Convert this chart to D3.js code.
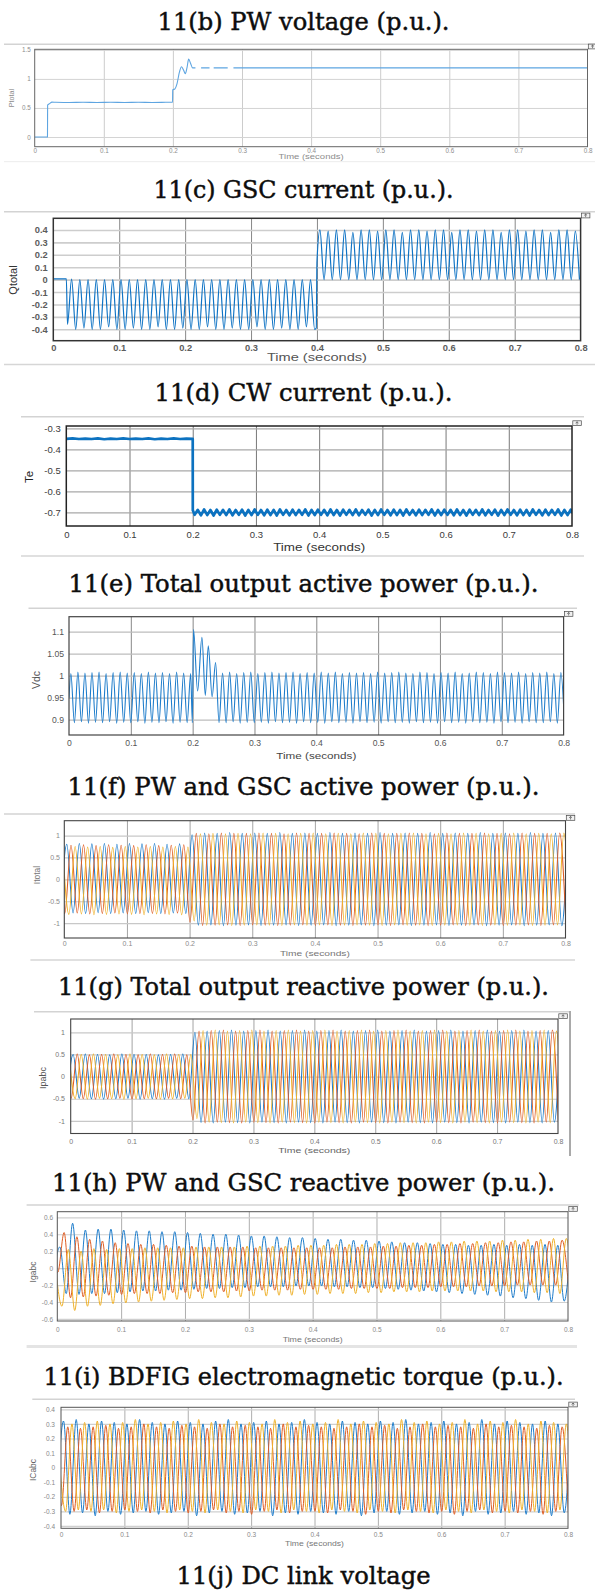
<!DOCTYPE html>
<html>
<head>
<meta charset="utf-8">
<title>BDFIG simulation results</title>
<script src="https://cdn.jsdelivr.net/npm/d3@7/dist/d3.min.js"></script>
<style>
html,body{margin:0;padding:0;background:#fff;}
svg{display:block;}
</style>
</head>
<body>
<script>
// ================= data =================
const timeTicks = [0, 0.1, 0.2, 0.3, 0.4, 0.5, 0.6, 0.7, 0.8];

const titleTexts = [
  "11(b) PW voltage (p.u.).",
  "11(c) GSC current (p.u.).",
  "11(d) CW current (p.u.).",
  "11(e) Total output active power (p.u.).",
  "11(f) PW and GSC active power (p.u.).",
  "11(g) Total output reactive power (p.u.).",
  "11(h) PW and GSC reactive power (p.u.).",
  "11(i) BDFIG electromagnetic torque (p.u.).",
  "11(j) DC link voltage"
];

// y tick values of each plot
const pwTicks = [0, 0.5, 1, 1.5];
const gscTicks = [-0.4, -0.3, -0.2, -0.1, 0, 0.1, 0.2, 0.3, 0.4];
const teTicks = [-0.7, -0.6, -0.5, -0.4, -0.3];
const vdcTicks = [0.9, 0.95, 1, 1.05, 1.1];
const itotalTicks = [-1, -0.5, 0, 0.5, 1];
const ipabcTicks = [-1, -0.5, 0, 0.5, 1];
const igabcTicks = [-0.6, -0.4, -0.2, 0, 0.2, 0.4, 0.6];
const icabcTicks = [-0.4, -0.3, -0.2, -0.1, 0, 0.1, 0.2, 0.3, 0.4];

// (b) Ptotal: sampled points, null = gap in the trace
const pwTime = [0, 0.0185, 0.0187, 0.0215, 0.025, 0.03, 0.05, 0.07, 0.09, 0.11, 0.13, 0.15, 0.17, 0.19, 0.1995, 0.1997,
  0.203, 0.206, 0.2095, 0.2125, 0.2155, 0.218, 0.2205, 0.2228, 0.2255, 0.2285, 0.2326, 0.2327, 0.2408, 0.253, 0.2531,
  0.259, 0.2793, 0.2794, 0.2876, 0.8];
const pwValue = [0, 0, 0.55, 0.575, 0.6, 0.598, 0.593, 0.598, 0.594, 0.598, 0.594, 0.598, 0.594, 0.598, 0.6, 0.81,
  0.83, 0.92, 1.12, 1.21, 1.15, 1.09, 1.2, 1.34, 1.27, 1.19, 1.19, null, 1.19, 1.19, null,
  1.19, 1.19, null, 1.19, 1.19];

// (c) Qtotal: lead-in, then extrema every half period
const gscLeadTime = [0, 0.0198];
const gscLeadValue = [0.006, 0.006];
const gscNegStart = 0.0215, gscHalf = 0.00625;
const gscNeg = [
  -0.36, 0.005, -0.4, 0, -0.39, 0, -0.4, 0, -0.4, 0,
  -0.38, 0, -0.4, 0, -0.4, 0, -0.39, 0, -0.4, 0,
  -0.4, 0, -0.38, 0, -0.4, 0, -0.4, 0, -0.39, 0,
  -0.4, 0, -0.4, 0, -0.38, 0, -0.4, 0, -0.4, 0,
  -0.39, 0, -0.4, 0, -0.4, 0, -0.38, 0, -0.4, 0,
  -0.4, 0, -0.39, 0, -0.4, 0, -0.4, 0, -0.38, 0,
  -0.4];
const gscStepTime = [0.399, 0.4];
const gscStepValue = [-0.39, 0.14];
const gscPosStart = 0.4045;
const gscPos = [
  0.4, 0, 0.39, 0, 0.4, 0, 0.4, 0, 0.38, 0,
  0.4, 0, 0.4, 0, 0.39, 0, 0.4, 0, 0.4, 0,
  0.38, 0, 0.4, 0, 0.4, 0, 0.39, 0, 0.4, 0,
  0.4, 0, 0.38, 0, 0.4, 0, 0.4, 0, 0.39, 0,
  0.4, 0, 0.4, 0, 0.38, 0, 0.4, 0, 0.4, 0,
  0.39, 0, 0.4, 0, 0.4, 0, 0.38, 0, 0.4, 0,
  0.4, 0, 0.39, 0];

// (d) Te
const teFlatStart = 0, teFlatStep = 0.01;
const teFlat = [-0.35, -0.348, -0.351, -0.349, -0.351, -0.348, -0.352, -0.349, -0.351, -0.348, -0.351,
  -0.349, -0.351, -0.348, -0.352, -0.349, -0.351, -0.348, -0.351, -0.349, -0.35];
const teDropTime = [0.2001];
const teDropValue = [-0.69];
const teRippleStart = 0.203, teHalf = 0.005;
const teRipple = [
  -0.712, -0.688, -0.714, -0.686, -0.713, -0.689, -0.715, -0.687, -0.712, -0.688,
  -0.713, -0.686, -0.714, -0.689, -0.712, -0.687, -0.715, -0.688, -0.713, -0.686,
  -0.712, -0.689, -0.714, -0.687, -0.713, -0.688, -0.715, -0.686, -0.712, -0.689,
  -0.714, -0.687, -0.713, -0.688, -0.712, -0.686, -0.715, -0.689, -0.713, -0.687,
  -0.712, -0.688, -0.714, -0.686, -0.713, -0.689, -0.715, -0.687, -0.712, -0.688,
  -0.713, -0.686, -0.714, -0.689, -0.712, -0.687, -0.715, -0.688, -0.713, -0.686,
  -0.712, -0.689, -0.714, -0.687, -0.713, -0.688, -0.715, -0.686, -0.712, -0.689,
  -0.714, -0.687, -0.713, -0.688, -0.712, -0.686, -0.715, -0.689, -0.713, -0.687,
  -0.712, -0.688, -0.714, -0.686, -0.713, -0.689, -0.715, -0.687, -0.712, -0.688,
  -0.713, -0.686, -0.714, -0.689, -0.712, -0.687, -0.715, -0.688, -0.713, -0.686,
  -0.712, -0.689, -0.714, -0.687, -0.713, -0.688, -0.715, -0.686, -0.712, -0.689,
  -0.714, -0.687, -0.713, -0.688, -0.712, -0.686, -0.715, -0.689, -0.713, -0.687,
  -0.712];

// (e) Vdc
const vdcLeadTime = [0];
const vdcLeadValue = [0.95];
const vdcPreStart = 0.003, vdcHalf = 0.0057;
const vdcPre = [
  1.005, 0.893, 1.008, 0.895, 1.006, 0.892, 1.007, 0.894, 1.008, 0.893,
  1.005, 0.895, 1.007, 0.892, 1.008, 0.894, 1.006, 0.893, 1.007, 0.895,
  1.005, 0.892, 1.008, 0.894, 1.006, 0.893, 1.007, 0.895, 1.005, 0.892,
  1.008, 0.894, 1.006, 0.893];
const vdcSpikeTime = [0.1968, 0.1995, 0.2014, 0.208, 0.215, 0.2205, 0.2253, 0.2315, 0.2371, 0.2427];
const vdcSpikeValue = [1.005, 0.893, 1.105, 0.965, 1.087, 0.955, 1.068, 0.952, 1.03, 0.893];
const vdcPostStart = 0.2484;
const vdcPost = [
  1.006, 0.893, 1.008, 0.895, 1.005, 0.892, 1.007, 0.894, 1.008, 0.893,
  1.005, 0.894, 1.007, 0.892, 1.008, 0.895, 1.006, 0.893, 1.007, 0.894,
  1.008, 0.892, 1.005, 0.895, 1.007, 0.893, 1.006, 0.894, 1.008, 0.892,
  1.006, 0.895, 1.008, 0.893, 1.005, 0.894, 1.007, 0.892, 1.006, 0.895,
  1.007, 0.893, 1.005, 0.894, 1.008, 0.892, 1.006, 0.895, 1.007, 0.893,
  1.008, 0.894, 1.006, 0.892, 1.005, 0.895, 1.008, 0.893, 1.007, 0.894,
  1.005, 0.892, 1.007, 0.895, 1.006, 0.893, 1.008, 0.894, 1.005, 0.892,
  1.006, 0.895, 1.008, 0.893, 1.007, 0.894, 1.005, 0.892, 1.008, 0.895,
  1.007, 0.893, 1.006, 0.894, 1.008, 0.892, 1.005, 0.895, 1.007, 0.893,
  1.006, 0.893, 1.008, 0.895, 1.005, 0.892, 1.007, 0.894];

// three-phase traces: extrema every half period of 50 Hz
const phaseHalf = 0.01;
const blueStart = -0.006, orangeStart = -0.0093, yellowStart = -0.0027;

// (f) Itotal
const itotalA = [
  -0.7, 0.8, -0.77, 0.82, -0.78, 0.81, -0.76, 0.82, -0.78, 0.8,
  -0.77, 0.82, -0.78, 0.81, -0.76, 0.82, -0.78, 0.8, -0.77, 0.81,
  -0.78, 1.02, -1.05, 1.06, -1.04, 1.05, -1.06, 1.07, -1.05, 1.05,
  -1.04, 1.06, -1.06, 1.05, -1.05, 1.07, -1.04, 1.05, -1.06, 1.06,
  -1.05, 1.05, -1.04, 1.07, -1.06, 1.05, -1.05, 1.06, -1.04, 1.05,
  -1.06, 1.07, -1.05, 1.05, -1.04, 1.06, -1.06, 1.05, -1.05, 1.07,
  -1.04, 1.05, -1.06, 1.06, -1.05, 1.05, -1.04, 1.07, -1.06, 1.05,
  -1.05, 1.06, -1.04, 1.05, -1.06, 1.07, -1.05, 1.05, -1.04, 1.06,
  -1.06, 1.05];
const itotalB = [
  0.76, -0.78, 0.78, -0.77, 0.79, -0.79, 0.77, -0.78, 0.79, -0.77,
  0.78, -0.79, 0.77, -0.78, 0.79, -0.78, 0.77, -0.79, 0.78, -0.77,
  0.79, -0.98, 1.05, -1.06, 1.04, -1.05, 1.06, -1.04, 1.05, -1.06,
  1.05, -1.04, 1.06, -1.05, 1.05, -1.06, 1.04, -1.05, 1.06, -1.04,
  1.05, -1.06, 1.05, -1.04, 1.06, -1.05, 1.05, -1.06, 1.04, -1.05,
  1.06, -1.04, 1.05, -1.06, 1.05, -1.04, 1.06, -1.05, 1.05, -1.06,
  1.04, -1.05, 1.06, -1.04, 1.05, -1.06, 1.05, -1.04, 1.06, -1.05,
  1.05, -1.06, 1.04, -1.05, 1.06, -1.04, 1.05, -1.06, 1.05, -1.04,
  1.06, -1.05];
const itotalC = [
  0.73, -0.8, 0.75, -0.79, 0.74, -0.81, 0.75, -0.8, 0.73, -0.79,
  0.75, -0.8, 0.74, -0.81, 0.75, -0.79, 0.74, -0.8, 0.75, -0.81,
  0.74, -0.95, 1.04, -1.05, 1.05, -1.04, 1.04, -1.06, 1.05, -1.05,
  1.04, -1.04, 1.06, -1.05, 1.05, -1.06, 1.04, -1.04, 1.05, -1.05,
  1.06, -1.04, 1.04, -1.06, 1.05, -1.05, 1.04, -1.04, 1.06, -1.05,
  1.05, -1.06, 1.04, -1.04, 1.05, -1.05, 1.06, -1.04, 1.04, -1.06,
  1.05, -1.05, 1.04, -1.04, 1.06, -1.05, 1.05, -1.06, 1.04, -1.04,
  1.05, -1.05, 1.06, -1.04, 1.04, -1.06, 1.05, -1.05, 1.04, -1.04,
  1.06, -1.05];

// (g) Ipabc
const ipabcA = [
  -0.45, 0.5, -0.49, 0.51, -0.5, 0.5, -0.51, 0.49, -0.5, 0.51,
  -0.49, 0.5, -0.51, 0.5, -0.5, 0.49, -0.51, 0.5, -0.49, 0.51,
  -0.5, 1.0, -1.04, 1.03, -1.05, 1.04, -1.03, 1.05, -1.04, 1.03,
  -1.05, 1.04, -1.03, 1.05, -1.04, 1.03, -1.05, 1.04, -1.03, 1.05,
  -1.04, 1.03, -1.05, 1.04, -1.03, 1.05, -1.04, 1.03, -1.05, 1.04,
  -1.03, 1.05, -1.04, 1.03, -1.05, 1.04, -1.03, 1.05, -1.04, 1.03,
  -1.05, 1.04, -1.03, 1.05, -1.04, 1.03, -1.05, 1.04, -1.03, 1.05,
  -1.04, 1.03, -1.05, 1.04, -1.03, 1.05, -1.04, 1.03, -1.05, 1.04,
  -1.03, 1.05];
const ipabcB = [
  0.5, -0.49, 0.51, -0.5, 0.49, -0.51, 0.5, -0.5, 0.51, -0.49,
  0.5, -0.51, 0.49, -0.5, 0.51, -0.5, 0.5, -0.49, 0.51, -0.5,
  0.49, -0.98, 1.03, -1.05, 1.04, -1.03, 1.05, -1.04, 1.03, -1.05,
  1.04, -1.03, 1.05, -1.04, 1.03, -1.05, 1.04, -1.03, 1.05, -1.04,
  1.03, -1.05, 1.04, -1.03, 1.05, -1.04, 1.03, -1.05, 1.04, -1.03,
  1.05, -1.04, 1.03, -1.05, 1.04, -1.03, 1.05, -1.04, 1.03, -1.05,
  1.04, -1.03, 1.05, -1.04, 1.03, -1.05, 1.04, -1.03, 1.05, -1.04,
  1.03, -1.05, 1.04, -1.03, 1.05, -1.04, 1.03, -1.05, 1.04, -1.03,
  1.05, -1.04];
const ipabcC = [
  0.49, -0.5, 0.5, -0.51, 0.51, -0.49, 0.5, -0.5, 0.49, -0.51,
  0.51, -0.5, 0.5, -0.49, 0.49, -0.51, 0.51, -0.5, 0.5, -0.49,
  0.5, -0.95, 1.04, -1.03, 1.05, -1.04, 1.03, -1.05, 1.04, -1.03,
  1.05, -1.04, 1.03, -1.05, 1.04, -1.03, 1.05, -1.04, 1.03, -1.05,
  1.04, -1.03, 1.05, -1.04, 1.03, -1.05, 1.04, -1.03, 1.05, -1.04,
  1.03, -1.05, 1.04, -1.03, 1.05, -1.04, 1.03, -1.05, 1.04, -1.03,
  1.05, -1.04, 1.03, -1.05, 1.04, -1.03, 1.05, -1.04, 1.03, -1.05,
  1.04, -1.03, 1.05, -1.04, 1.03, -1.05, 1.04, -1.03, 1.05, -1.04,
  1.03, -1.05];

// (h) Igabc
const igabcA = [
  -0.1, 0.25, -0.3, 0.53, -0.31, 0.45, -0.3, 0.46, -0.3, 0.46,
  -0.29, 0.45, -0.28, 0.44, -0.27, 0.44, -0.27, 0.43, -0.26, 0.43,
  -0.26, 0.42, -0.25, 0.41, -0.24, 0.4, -0.24, 0.4, -0.23, 0.39,
  -0.23, 0.38, -0.22, 0.38, -0.22, 0.37, -0.22, 0.36, -0.21, 0.36,
  -0.21, 0.35, -0.21, 0.34, -0.22, 0.34, -0.22, 0.33, -0.23, 0.33,
  -0.23, 0.32, -0.24, 0.31, -0.25, 0.3, -0.26, 0.3, -0.27, 0.29,
  -0.28, 0.28, -0.29, 0.28, -0.3, 0.27, -0.31, 0.27, -0.32, 0.28,
  -0.33, 0.27, -0.35, 0.28, -0.36, 0.27, -0.38, 0.28, -0.4, 0.27,
  -0.39, 0.26];
const igabcB = [
  0.05, -0.05, 0.42, -0.35, 0.37, -0.34, 0.34, -0.33, 0.32, -0.32,
  0.3, -0.31, 0.29, -0.3, 0.28, -0.3, 0.28, -0.3, 0.27, -0.29,
  0.26, -0.29, 0.26, -0.28, 0.25, -0.28, 0.25, -0.28, 0.25, -0.27,
  0.25, -0.27, 0.24, -0.26, 0.24, -0.26, 0.24, -0.26, 0.24, -0.25,
  0.24, -0.25, 0.24, -0.25, 0.24, -0.25, 0.25, -0.24, 0.25, -0.24,
  0.25, -0.24, 0.26, -0.24, 0.26, -0.23, 0.27, -0.23, 0.27, -0.23,
  0.28, -0.22, 0.28, -0.22, 0.29, -0.22, 0.29, -0.21, 0.3, -0.21,
  0.3, -0.21, 0.31, -0.2, 0.31, -0.2, 0.32, -0.2, 0.32, -0.2,
  0.33, -0.2];
const igabcC = [
  0, -0.45, 0.22, -0.5, 0.2, -0.45, 0.23, -0.44, 0.22, -0.42,
  0.23, -0.41, 0.23, -0.4, 0.24, -0.39, 0.24, -0.38, 0.24, -0.37,
  0.24, -0.36, 0.25, -0.36, 0.25, -0.35, 0.25, -0.35, 0.25, -0.34,
  0.26, -0.33, 0.26, -0.33, 0.26, -0.32, 0.26, -0.32, 0.27, -0.31,
  0.27, -0.31, 0.27, -0.3, 0.28, -0.3, 0.28, -0.3, 0.28, -0.29,
  0.29, -0.29, 0.29, -0.28, 0.3, -0.28, 0.3, -0.28, 0.3, -0.27,
  0.31, -0.27, 0.31, -0.27, 0.32, -0.27, 0.32, -0.27, 0.32, -0.28,
  0.33, -0.28, 0.33, -0.28, 0.34, -0.29, 0.34, -0.29, 0.35, -0.3,
  0.35, -0.3];

// (i) ICabc
const icabcA = [
  -0.2, 0.32, -0.32, 0.33, -0.31, 0.3, -0.33, 0.32, -0.3, 0.31,
  -0.32, 0.3, -0.31, 0.33, -0.3, 0.31, -0.32, 0.3, -0.31, 0.32,
  -0.3, 0.31, -0.33, 0.3, -0.31, 0.32, -0.3, 0.33, -0.32, 0.3,
  -0.31, 0.31, -0.3, 0.32, -0.33, 0.3, -0.31, 0.31, -0.32, 0.33,
  -0.3, 0.31, -0.31, 0.3, -0.32, 0.32, -0.3, 0.31, -0.33, 0.3,
  -0.31, 0.32, -0.3, 0.31, -0.32, 0.33, -0.31, 0.3, -0.3, 0.31,
  -0.32, 0.32, -0.31, 0.3, -0.33, 0.31, -0.3, 0.33, -0.32, 0.3,
  -0.31, 0.32, -0.3, 0.31, -0.32, 0.3, -0.31, 0.32, -0.33, 0.3,
  -0.31, 0.26];
const icabcB = [
  0.25, -0.26, 0.28, -0.3, 0.27, -0.29, 0.28, -0.31, 0.29, -0.3,
  0.27, -0.29, 0.28, -0.3, 0.3, -0.31, 0.28, -0.29, 0.27, -0.3,
  0.29, -0.31, 0.28, -0.3, 0.27, -0.29, 0.3, -0.31, 0.28, -0.3,
  0.29, -0.32, 0.28, -0.3, 0.27, -0.29, 0.3, -0.31, 0.28, -0.3,
  0.29, -0.3, 0.28, -0.31, 0.27, -0.29, 0.28, -0.3, 0.3, -0.32,
  0.28, -0.3, 0.29, -0.31, 0.27, -0.29, 0.28, -0.3, 0.3, -0.31,
  0.28, -0.3, 0.29, -0.32, 0.28, -0.3, 0.27, -0.29, 0.3, -0.31,
  0.28, -0.3, 0.29, -0.31, 0.28, -0.3, 0.27, -0.32, 0.29, -0.3,
  0.28, -0.31];
const icabcC = [
  0.05, -0.3, 0.3, -0.29, 0.31, -0.3, 0.32, -0.29, 0.3, -0.31,
  0.31, -0.3, 0.33, -0.29, 0.3, -0.3, 0.31, -0.31, 0.32, -0.29,
  0.3, -0.3, 0.33, -0.31, 0.31, -0.29, 0.3, -0.3, 0.32, -0.31,
  0.31, -0.29, 0.3, -0.3, 0.33, -0.31, 0.31, -0.29, 0.32, -0.3,
  0.3, -0.31, 0.31, -0.29, 0.33, -0.3, 0.3, -0.31, 0.32, -0.29,
  0.31, -0.3, 0.3, -0.31, 0.33, -0.29, 0.31, -0.3, 0.32, -0.31,
  0.3, -0.29, 0.31, -0.3, 0.33, -0.31, 0.3, -0.29, 0.32, -0.3,
  0.31, -0.31, 0.33, -0.29, 0.3, -0.3, 0.32, -0.31, 0.31, -0.29,
  0.3, -0.3];

// ================= helpers =================
const pairs = (ts, vs) => ts.map((t, i) => [t, vs[i]]);
const extrema = (start, half, vs) => vs.map((v, i) => [start + i * half, v]);
const fmt = v => String(+v.toFixed(3));

const BLUE = "#1f7dcb", ORANGE = "#de5d24", YELLOW = "#efb12a";

// ================= layout =================
const W = 595, H = 1591;
const svg = d3.select("body").append("svg").attr("width", W).attr("height", H)
  .attr("viewBox", `0 0 ${W} ${H}`);
svg.append("rect").attr("width", W).attr("height", H).attr("fill", "#fff");

const SANS = "'Liberation Sans', Arial, Helvetica, sans-serif";
const SERIF = "'DejaVu Serif', 'Liberation Serif', serif";

const titleLayout = [
  {y: 30, w: 292}, {y: 198, w: 300}, {y: 401, w: 298}, {y: 592, w: 470}, {y: 795, w: 472},
  {y: 995, w: 491}, {y: 1191, w: 503}, {y: 1385, w: 520}, {y: 1584, w: 254}
];

titleTexts.forEach((t, i) => {
  svg.append("text")
    .attr("x", 303.5).attr("y", titleLayout[i].y)
    .attr("text-anchor", "middle")
    .attr("font-family", SERIF).attr("font-size", 24)
    .attr("fill", "#0d0d0d").attr("stroke", "#0d0d0d").attr("stroke-width", 0.45)
    .attr("textLength", titleLayout[i].w).attr("lengthAdjust", "spacingAndGlyphs")
    .text(t);
});

const panels = [
  { id: "b", x0: 34.7, x1: 587.5, y0: 49.3, y1: 146.7, dom: [-0.167, 1.51], ticks: pwTicks, ylabel: "Ptotal",
    bar: [44.3, 4, 595], tfs: 6.3, tfill: "#8d8d8d", tw: 400, yRight: 30.7, xcy: 150.7,
    xl: {cy: 156.7, fs: 7.5, w: 65, fill: "#8d8d8d"}, yl: {x: 11.7, y: 98, fs: 7.2, fill: "#8d8d8d"},
    grid: {v: "#c6c6c6", h: "#d4d4d4", hw: 1}, box: {c: "#666", w: 1},
    series: [{pts: [pairs(pwTime, pwValue)], color: "#5ea5e1", w: 1.1}] },
  { id: "c", x0: 53.3, x1: 580.6, y0: 218.3, y1: 340.7, dom: [-0.492, 0.494], ticks: gscTicks, ylabel: "Qtotal",
    bar: [211.7, 4, 595], tfs: 9.3, tfill: "#5c5c5c", tw: 700, yRight: 47.7, xcy: 348,
    xl: {cy: 357.7, fs: 10, w: 100, fill: "#555"}, yl: {x: 13.3, y: 280, fs: 11, fill: "#333"},
    grid: {v: "#7a7a7a", h: "#cdcdcd", hw: 1.6}, box: {c: "#333", w: 1.5},
    series: [{pts: [[...pairs(gscLeadTime, gscLeadValue), ...extrema(gscNegStart, gscHalf, gscNeg),
      ...pairs(gscStepTime, gscStepValue), ...extrema(gscPosStart, gscHalf, gscPos)]], color: "#0f73c4", w: 1.2}] },
  { id: "d", x0: 66.3, x1: 572, y0: 426, y1: 526, dom: [-0.765, -0.289], ticks: teTicks, ylabel: "Te",
    bar: [416.7, 21, 584], tfs: 9.5, tfill: "#3a3a3a", tw: 400, yRight: 60.7, xcy: 535,
    xl: {cy: 547, fs: 10.5, w: 92, fill: "#333"}, yl: {x: 29.3, y: 477, fs: 11.5, fill: "#222"},
    grid: {v: "#6a6a6a", h: "#a8a8a8", hw: 1.3}, box: {c: "#222", w: 1.5},
    series: [{pts: [[...extrema(teFlatStart, teFlatStep, teFlat), ...pairs(teDropTime, teDropValue),
      ...extrema(teRippleStart, teHalf, teRipple)]], color: "#0c72c0", w: 2.7, linear: true}] },
  { id: "e", x0: 69, x1: 563.6, y0: 616.7, y1: 735, dom: [0.865, 1.134], ticks: vdcTicks, ylabel: "Vdc",
    bar: [608.3, 28.5, 577], tfs: 8.6, tfill: "#555", tw: 400, yRight: 64, xcy: 743.3,
    xl: {cy: 755, fs: 9.5, w: 80, fill: "#444"}, yl: {x: 36, y: 680, fs: 10.5, fill: "#555"},
    grid: {v: "#7a7a7a", h: "#bdbdbd", hw: 1.3}, box: {c: "#444", w: 1.2},
    series: [{pts: [[...pairs(vdcLeadTime, vdcLeadValue), ...extrema(vdcPreStart, vdcHalf, vdcPre),
      ...pairs(vdcSpikeTime, vdcSpikeValue), ...extrema(vdcPostStart, vdcHalf, vdcPost)]], color: "#1f7dcb", w: 1.1}] },
  { id: "f", x0: 64.3, x1: 565.5, y0: 820.7, y1: 938, dom: [-1.34, 1.34], ticks: itotalTicks, ylabel: "Itotal",
    bar: [814, 4, 575], tfs: 7, tfill: "#8a8a8a", tw: 400, yRight: 60, xcy: 944,
    xl: {cy: 953.3, fs: 7.5, w: 70, fill: "#777"}, yl: {x: 36.7, y: 875, fs: 8.5, fill: "#777"},
    grid: {v: "#9a9a9a", h: "#c8c8c8", hw: 1.2}, box: {c: "#444", w: 1.1},
    series: [
      {pts: [extrema(blueStart, phaseHalf, itotalA)], color: BLUE, w: 1.05},
      {pts: [extrema(orangeStart, phaseHalf, itotalB)], color: ORANGE, w: 1.05},
      {pts: [extrema(yellowStart, phaseHalf, itotalC)], color: YELLOW, w: 1.05}] },
  { id: "g", x0: 70.7, x1: 558, y0: 1019, y1: 1133.5, dom: [-1.285, 1.3], ticks: ipabcTicks, ylabel: "Ipabc",
    bar: [1011.7, 34, 569], tfs: 7, tfill: "#777", tw: 400, yRight: 65, xcy: 1141.5,
    xl: {cy: 1150.7, fs: 7.5, w: 72, fill: "#666"}, yl: {x: 42.7, y: 1078, fs: 9, fill: "#555"},
    grid: {v: "#9a9a9a", h: "#c8c8c8", hw: 1.2}, box: {c: "#444", w: 1.1},
    series: [
      {pts: [extrema(blueStart, phaseHalf, ipabcA)], color: BLUE, w: 1.05},
      {pts: [extrema(orangeStart, phaseHalf, ipabcB)], color: ORANGE, w: 1.05},
      {pts: [extrema(yellowStart, phaseHalf, ipabcC)], color: YELLOW, w: 1.05}] },
  { id: "h", x0: 57.3, x1: 568, y0: 1211.7, y1: 1321, dom: [-0.624, 0.666], ticks: igabcTicks, ylabel: "Igabc",
    bar: [1205, 26.6, 578.7], tfs: 6.5, tfill: "#888", tw: 400, yRight: 53, xcy: 1329.5,
    xl: {cy: 1339, fs: 7, w: 60, fill: "#777"}, yl: {x: 33.3, y: 1272, fs: 8.5, fill: "#666"},
    grid: {v: "#a5a5a5", h: "#cfcfcf", hw: 1.2}, box: {c: "#555", w: 1},
    series: [
      {pts: [extrema(blueStart, phaseHalf, igabcA)], color: BLUE, w: 1},
      {pts: [extrema(orangeStart, phaseHalf, igabcB)], color: ORANGE, w: 1},
      {pts: [extrema(yellowStart, phaseHalf, igabcC)], color: YELLOW, w: 1}] },
  { id: "i", x0: 61, x1: 568, y0: 1407.3, y1: 1528.3, dom: [-0.416, 0.414], ticks: icabcTicks, ylabel: "ICabc",
    bar: [1399.3, 32.3, 575], tfs: 6.5, tfill: "#888", tw: 400, yRight: 55, xcy: 1535,
    xl: {cy: 1543.3, fs: 7, w: 59, fill: "#777"}, yl: {x: 33.3, y: 1470, fs: 8.5, fill: "#666"},
    grid: {v: "#a5a5a5", h: "#cfcfcf", hw: 1.2}, box: {c: "#555", w: 1},
    series: [
      {pts: [extrema(blueStart, phaseHalf, icabcA)], color: BLUE, w: 1},
      {pts: [extrema(orangeStart, phaseHalf, icabcB)], color: ORANGE, w: 1},
      {pts: [extrema(yellowStart, phaseHalf, icabcC)], color: YELLOW, w: 1}] }
];

// light separator strips left over from the figure windows
const separators = [
  {y: 161.7, a: 4, b: 595, w: 1, c: "#ececec"},
  {y: 364.5, a: 4, b: 595, w: 1.4, c: "#d6d6d6"},
  {y: 556, a: 21, b: 584, w: 1.4, c: "#d6d6d6"},
  {y: 960, a: 30.4, b: 575, w: 1.4, c: "#d6d6d6"},
  {y: 1346.5, a: 26.6, b: 577, w: 3, c: "#e4e4e4"}
];
separators.forEach(s => svg.append("line")
  .attr("x1", s.a).attr("x2", s.b).attr("y1", s.y).attr("y2", s.y)
  .attr("stroke", s.c).attr("stroke-width", s.w));
// figure frame edge on the right of (g)
svg.append("line").attr("x1", 570).attr("x2", 570).attr("y1", 1011).attr("y2", 1156)
  .attr("stroke", "#555").attr("stroke-width", 1);

// ================= panels =================
panels.forEach(P => {
  const g = svg.append("g").attr("class", "panel-" + P.id);
  const x = d3.scaleLinear().domain([0, 0.8]).range([P.x0, P.x1]);
  const y = d3.scaleLinear().domain(P.dom).range([P.y1, P.y0]);

  // toolbar strip above the axes
  g.append("line").attr("x1", P.bar[1]).attr("x2", P.bar[2]).attr("y1", P.bar[0]).attr("y2", P.bar[0])
    .attr("stroke", "#d3d3d3").attr("stroke-width", 1.6);

  // grid
  const grid = g.append("g");
  grid.append("g").attr("transform", `translate(0,${P.y1})`)
    .call(d3.axisBottom(x).tickValues(timeTicks.slice(1, -1)).tickSize(-(P.y1 - P.y0)).tickFormat(""))
    .call(s => s.select(".domain").remove())
    .selectAll("line").attr("stroke", P.grid.v).attr("stroke-width", 0.9);
  grid.append("g").attr("transform", `translate(${P.x0},0)`)
    .call(d3.axisLeft(y).tickValues(P.ticks).tickSize(-(P.x1 - P.x0)).tickFormat(""))
    .call(s => s.select(".domain").remove())
    .selectAll("line").attr("stroke", P.grid.h).attr("stroke-width", P.grid.hw);

  // traces
  const clipId = "clip-" + P.id;
  g.append("clipPath").attr("id", clipId).append("rect")
    .attr("x", P.x0).attr("y", P.y0).attr("width", P.x1 - P.x0).attr("height", P.y1 - P.y0);
  const traces = g.append("g").attr("clip-path", `url(#${clipId})`);
  P.series.forEach(s => {
    const line = d3.line()
      .defined(d => d[1] !== null)
      .x(d => x(d[0])).y(d => y(d[1]))
      .curve(s.linear ? d3.curveLinear : d3.curveMonotoneX);
    s.pts.forEach(pts => traces.append("path")
      .attr("d", line(pts)).attr("fill", "none")
      .attr("stroke", s.color).attr("stroke-width", s.w)
      .attr("stroke-linejoin", "round"));
  });

  // axes box
  g.append("rect").attr("x", P.x0).attr("y", P.y0).attr("width", P.x1 - P.x0).attr("height", P.y1 - P.y0)
    .attr("fill", "none").attr("stroke", P.box.c).attr("stroke-width", P.box.w);

  // tick labels
  const styleText = sel => sel.attr("font-family", SANS).attr("font-size", P.tfs)
    .attr("font-weight", P.tw).attr("fill", P.tfill);
  g.append("g").attr("transform", `translate(${P.x0},0)`)
    .call(d3.axisLeft(y).tickValues(P.ticks).tickSize(0).tickPadding(P.x0 - P.yRight).tickFormat(fmt))
    .call(s => s.select(".domain").remove())
    .call(s => s.attr("font-family", null).attr("font-size", null))
    .selectAll("text").call(styleText);
  g.append("g").attr("transform", `translate(0,${P.y1})`)
    .call(d3.axisBottom(x).tickValues(timeTicks).tickSize(0)
      .tickPadding(P.xcy - P.y1 - 0.36 * P.tfs).tickFormat(fmt))
    .call(s => s.select(".domain").remove())
    .call(s => s.attr("font-family", null).attr("font-size", null))
    .selectAll("text").call(styleText);

  // axis titles
  g.append("text").attr("x", (P.x0 + P.x1) / 2).attr("y", P.xl.cy)
    .attr("text-anchor", "middle").attr("dominant-baseline", "central")
    .attr("font-family", SANS).attr("font-size", P.xl.fs).attr("fill", P.xl.fill)
    .attr("textLength", P.xl.w).attr("lengthAdjust", "spacingAndGlyphs")
    .text("Time (seconds)");
  g.append("text").attr("transform", `translate(${P.yl.x},${P.yl.y}) rotate(-90)`)
    .attr("text-anchor", "middle").attr("dominant-baseline", "central")
    .attr("font-family", SANS).attr("font-size", P.yl.fs).attr("fill", P.yl.fill)
    .text(P.ylabel);

  // small axes-toolbar button at the top right corner
  const bx = P.x1 + 0.8, by = P.y0 - 5.2;
  g.append("rect").attr("x", bx).attr("y", by).attr("width", 8.5).attr("height", 4.8)
    .attr("fill", "#f2f2f2").attr("stroke", "#4a4a4a").attr("stroke-width", 0.7);
  g.append("path").attr("d", `M${bx + 4.25},${by + 1} V${by + 4} M${bx + 2.8},${by + 2.3} L${bx + 4.25},${by + 1} L${bx + 5.7},${by + 2.3}`)
    .attr("stroke", "#333").attr("stroke-width", 0.6).attr("fill", "none");
});
</script>
</body>
</html>
